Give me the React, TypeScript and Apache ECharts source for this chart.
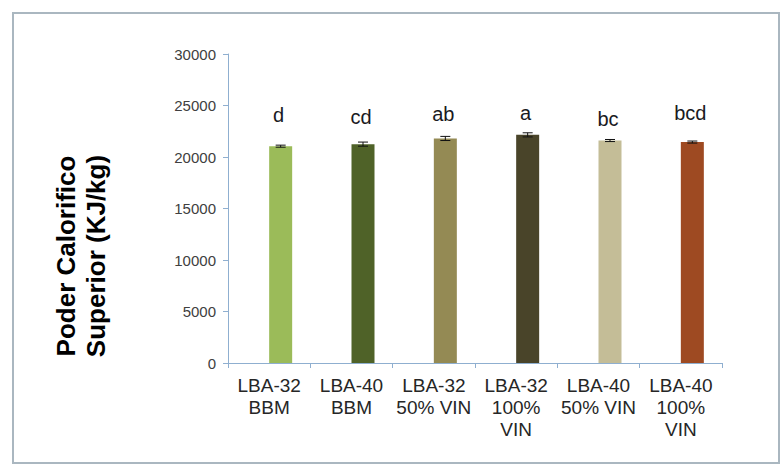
import React, { useEffect, useRef } from "react";
import * as echarts from "echarts";

const categories = [
  "LBA-32\nBBM",
  "LBA-40\nBBM",
  "LBA-32\n50% VIN",
  "LBA-32\n100%\nVIN",
  "LBA-40\n50% VIN",
  "LBA-40\n100%\nVIN",
];
const values = [21050, 21250, 21800, 22150, 21600, 21450];
const errors = [100, 200, 200, 200, 100, 100];
const letters = ["d", "cd", "ab", "a", "bc", "bcd"];
const letterHeights = [23500, 23300, 23600, 23700, 23100, 23700];
const barColors = ["#9BBB59", "#4F6228", "#948A54", "#494429", "#C4BD97", "#9E4A22"];
const yTicks = { min: 0, max: 30000, interval: 5000 };

export default function App() {
  const ref = useRef<HTMLDivElement>(null);
  useEffect(() => {
    if (!ref.current) return;
    const chart = echarts.init(ref.current, null, { renderer: "svg" });
    const BAR_OFFSET = 11.5;
    chart.setOption({
      animation: false,
      backgroundColor: "#ffffff",
      grid: { left: 228, right: 59, top: 54, bottom: 105, containLabel: false },
      xAxis: {
        type: "category",
        data: categories,
        axisLine: { lineStyle: { color: "#8FAFD0", width: 1 } },
        axisTick: { show: true, length: 5, lineStyle: { color: "#8FAFD0" } },
        axisLabel: {
          interval: 0,
          margin: 11,
          fontSize: 19,
          lineHeight: 22,
          fontFamily: "Liberation Sans",
          color: "#262626",
        },
      },
      yAxis: {
        type: "value",
        min: yTicks.min,
        max: yTicks.max,
        interval: yTicks.interval,
        splitLine: { show: false },
        axisLine: { show: true, lineStyle: { color: "#8FAFD0", width: 1 } },
        axisTick: { show: true, length: 5, lineStyle: { color: "#8FAFD0" } },
        axisLabel: {
          margin: 12,
          fontSize: 15,
          fontFamily: "Liberation Sans",
          color: "#404040",
          formatter: (v: number) => String(v),
        },
      },
      graphic: [
        {
          type: "rect",
          shape: { x: 13, y: 13, width: 766, height: 450 },
          style: { fill: "none", stroke: "#AAB7C0", lineWidth: 2 },
          silent: true,
        },
        {
          type: "text",
          x: 81,
          y: 256,
          rotation: Math.PI / 2,
          style: {
            text: "Poder Calorifico\nSuperior (KJ/kg)",
            align: "center",
            verticalAlign: "middle",
            font: "bold 26px 'Liberation Sans'",
            lineHeight: 30,
            fill: "#000000",
          },
        },
      ],
      series: [
        {
          type: "bar",
          data: values.map(() => "-"),
          barWidth: 23,
          barGap: "0%",
        },
        {
          type: "bar",
          barWidth: 23,
          barGap: "0%",
          data: values.map((v, i) => ({ value: v, itemStyle: { color: barColors[i] } })),
        },
        {
          type: "custom",
          data: values.map((v, i) => [i, v, errors[i], letterHeights[i]]),
          z: 10,
          renderItem: (params: any, api: any) => {
            const i = api.value(0);
            const v = api.value(1);
            const e = api.value(2);
            const lh = api.value(3);
            const top = api.coord([i, v + e]);
            const bot = api.coord([i, v - e]);
            const lab = api.coord([i, lh]);
            const x = top[0] + BAR_OFFSET;
            const cap = 5;
            return {
              type: "group",
              children: [
                { type: "line", shape: { x1: x, y1: top[1], x2: x, y2: bot[1] }, style: { stroke: "#111", lineWidth: 1 } },
                { type: "line", shape: { x1: x - cap, y1: top[1], x2: x + cap, y2: top[1] }, style: { stroke: "#111", lineWidth: 1 } },
                { type: "line", shape: { x1: x - cap, y1: bot[1], x2: x + cap, y2: bot[1] }, style: { stroke: "#111", lineWidth: 1 } },
                {
                  type: "text",
                  x: x - 2,
                  y: lab[1] + 4,
                  style: {
                    text: letters[params.dataIndex],
                    align: "center",
                    verticalAlign: "bottom",
                    font: "20px 'Liberation Sans'",
                    fill: "#1a1a22",
                  },
                },
              ],
            };
          },
        },
      ],
    });
    return () => chart.dispose();
  }, []);
  return (
    <div
      ref={ref}
      style={{ position: "fixed", left: 0, top: 0, width: 781, height: 468 }}
    />
  );
}
